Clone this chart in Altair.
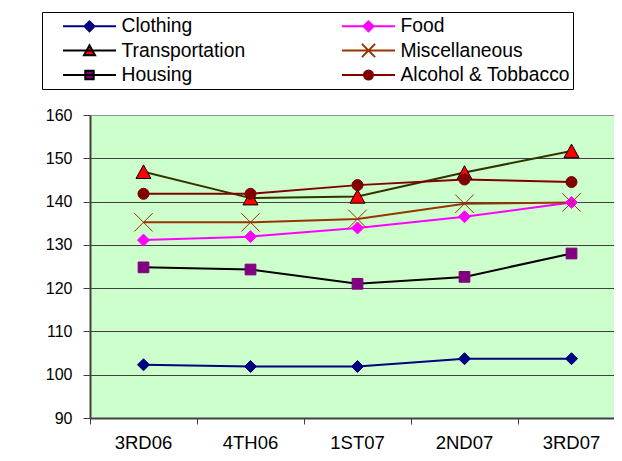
import altair as alt
import pandas as pd

quarters = ["3RD06", "4TH06", "1ST07", "2ND07", "3RD07"]
series = ["Clothing", "Food", "Transportation", "Miscellaneous", "Housing", "Alcohol & Tobbacco"]

clothing = [102.3, 101.9, 101.9, 103.7, 103.7]
food = [131.1, 131.9, 133.9, 136.5, 139.8]
transportation = [146.9, 140.8, 141.2, 146.7, 151.7]
miscellaneous = [135.2, 135.2, 136.0, 139.5, 139.8]
housing = [124.8, 124.3, 121.0, 122.6, 128.0]
alcohol = [141.8, 141.8, 143.8, 145.1, 144.5]

y_ticks = [90, 100, 110, 120, 130, 140, 150, 160]

line_colors = ["#000080", "#FF00FF", "#333300", "#993300", "#000000", "#800000"]
marker_fill = ["#000080", "#FF00FF", "#FF0000", "transparent", "#800080", "#800000"]
marker_stroke = ["#000080", "#FF00FF", "#000000", "#993300", "#800080", "#800000"]
marker_width = [1, 1, 2, 2, 1, 1]
legend_stroke = ["#000080", "#FF00FF", "#000000", "#993300", "#000000", "#800000"]

# marker outlines (drawn at size 256 -> unit = 8px)
plot_shapes = [
    "M0,-0.75L0.75,0L0,0.75L-0.75,0Z",
    "M0,-0.75L0.75,0L0,0.75L-0.75,0Z",
    "M0,-0.85L0.94,0.85L-0.94,0.85Z",
    "M-1.15,-1.15L1.15,1.15M1.15,-1.15L-1.15,1.15",
    "M-0.67,-0.67H0.67V0.67H-0.67Z",
    "M-0.69,0A0.69,0.69,0,1,0,0.69,0A0.69,0.69,0,1,0,-0.69,0Z",
]
# legend symbols: line + marker (drawn at size 400 -> unit = 10px)
legend_shapes = [
    "M-2.65,0H2.65M0,-0.5L0.5,0L0,0.5L-0.5,0Z",
    "M-2.65,0H2.65M0,-0.5L0.5,0L0,0.5L-0.5,0Z",
    "M-2.65,0H2.65M0,-0.52L0.55,0.48L-0.55,0.48Z",
    "M-2.65,0H2.65M-0.66,-0.66L0.66,0.66M0.66,-0.66L-0.66,0.66",
    "M-2.65,0H2.65M-0.42,-0.42H0.42V0.42H-0.42Z",
    "M-2.65,0H2.65M-0.45,0A0.45,0.45,0,1,0,0.45,0A0.45,0.45,0,1,0,-0.45,0Z",
]

rows = []
for name, vals in zip(series, [clothing, food, transportation, miscellaneous, housing, alcohol]):
    for q, v in zip(quarters, vals):
        rows.append({"series": name, "quarter": q, "value": v})
df = pd.DataFrame(rows)

# legend is filled column by column: reorder so that it reads row by row
col_major = [0, 2, 4, 1, 3, 5]
leg_domain = [series[i] for i in col_major]
leg_shapes = [legend_shapes[i] for i in col_major]
leg_fill = [marker_fill[i] for i in col_major]
leg_stroke = [legend_stroke[i] for i in col_major]

FONT = "Liberation Sans"

x_scale = alt.Scale(type="band", domain=quarters, paddingInner=0, paddingOuter=0)
y_scale = alt.Scale(domain=[90, 160], nice=False, zero=False)

y_axis = alt.Axis(
    title=None, values=y_ticks, labelFont=FONT, labelFontSize=16, labelColor="black",
    labelPadding=11, tickSize=7, tickColor="#404040", tickWidth=1,
    domainColor="#404040", domainWidth=2, grid=True,
    gridColor=alt.condition("datum.value == 160", alt.value("#909090"), alt.value("#404040")),
    gridWidth=1,
)
x_axis_labels = alt.Axis(
    title=None, orient="bottom", labelAngle=0, labelFont=FONT, labelFontSize=18.5,
    labelColor="black", labelPadding=15, ticks=False, domain=True,
    domainColor="#404040", domainWidth=2, grid=False,
)
x_axis_ticks = alt.Axis(
    title=None, orient="bottom", labels=False, ticks=True, tickSize=6,
    tickColor="#404040", tickWidth=1, bandPosition=0, domain=False, grid=False,
)

leg = alt.Legend(
    title=" ", titleOrient="left", titleFontSize=8, titlePadding=18,
    orient="none", legendX=-48, legendY=-103, columns=2, columnPadding=92,
    rowPadding=2.5, symbolSize=400, symbolStrokeWidth=2, symbolOpacity=1,
    symbolOffset=15.5, labelOffset=21,
    labelFont=FONT, labelFontSize=19.3, labelColor="black",
    labelLimit=400, strokeColor="black", fillColor="white", padding=3,
)

lines = alt.Chart(df).mark_line(strokeWidth=2).encode(
    x=alt.X("quarter:N", scale=x_scale, axis=x_axis_labels, sort=quarters),
    y=alt.Y("value:Q", scale=y_scale, axis=y_axis),
    color=alt.Color("series:N", scale=alt.Scale(domain=series, range=line_colors), legend=None),
)

points = alt.Chart(df).mark_point(size=256, opacity=1, fillOpacity=1).encode(
    x=alt.X("quarter:N", scale=x_scale, axis=x_axis_ticks, sort=quarters),
    y=alt.Y("value:Q", scale=y_scale, axis=y_axis),
    shape=alt.Shape("series:N", scale=alt.Scale(domain=series, range=plot_shapes), legend=None),
    fill=alt.Fill("series:N", scale=alt.Scale(domain=series, range=marker_fill), legend=None),
    stroke=alt.Stroke("series:N", scale=alt.Scale(domain=series, range=marker_stroke), legend=None),
    strokeWidth=alt.StrokeWidth("series:N", scale=alt.Scale(domain=series, range=marker_width), legend=None),
)

legend_layer = alt.Chart(df).mark_point(size=400, opacity=0, strokeWidth=2).encode(
    x=alt.X("quarter:N", scale=x_scale, axis=None, sort=quarters),
    y=alt.Y("value:Q", scale=y_scale, axis=y_axis),
    shape=alt.Shape("series:N", scale=alt.Scale(domain=leg_domain, range=leg_shapes), legend=leg),
    fill=alt.Fill("series:N", scale=alt.Scale(domain=leg_domain, range=leg_fill), legend=leg),
    stroke=alt.Stroke("series:N", scale=alt.Scale(domain=leg_domain, range=leg_stroke), legend=leg),
)

chart = (
    alt.layer(lines, points, legend_layer)
    .resolve_axis(x="independent")
    .resolve_scale(shape="independent", fill="independent", stroke="independent")
    .properties(
        width=535, height=303,
        autosize=alt.AutoSizeParams(type="none"),
        padding={"left": 82, "top": 107, "right": -11, "bottom": 35},
        background="white",
    )
    .configure_view(fill="#CCFFCC", stroke="#909090", strokeWidth=1)
)

chart.save("out.html", embed_options={"renderer": "svg", "actions": False})
